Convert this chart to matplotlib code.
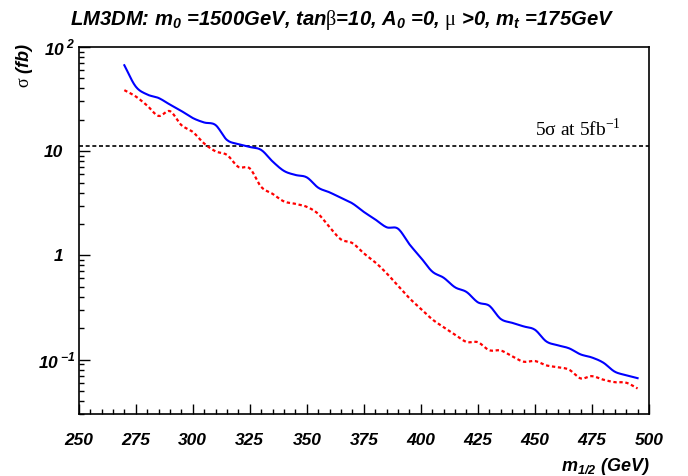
import numpy as np
import matplotlib
matplotlib.use("Agg")
import matplotlib.pyplot as plt
import matplotlib.transforms as mtransforms
from matplotlib.ticker import MultipleLocator, LogLocator, NullFormatter

plt.rcParams["font.family"] = "Liberation Sans"
plt.rcParams["mathtext.fontset"] = "custom"
plt.rcParams["mathtext.rm"] = "Liberation Serif"

# cross section vs m_1/2, sampled every 5 GeV
m_half = [270, 275, 280, 285, 290, 295, 300, 305, 310, 315,
          320, 325, 330, 335, 340, 345, 350, 355, 360, 365,
          370, 375, 380, 385, 390, 395, 400, 405, 410, 415,
          420, 425, 430, 435, 440, 445, 450, 455, 460, 465,
          470, 475, 480, 485, 490, 495]

sigma_blue = [66.8, 41.7, 35.0, 32.4, 28.0, 24.3, 20.8, 18.85, 17.8, 12.8,
              11.7, 10.97, 10.27, 7.96, 6.46, 5.91, 5.60, 4.46, 4.02, 3.56,
              3.15, 2.61, 2.21, 1.86, 1.80, 1.275, 0.949, 0.698, 0.609, 0.493,
              0.445, 0.354, 0.328, 0.245, 0.225, 0.208, 0.193, 0.149, 0.137, 0.128,
              0.112, 0.1045, 0.0932, 0.0764, 0.0707, 0.0662]

sigma_red = [38.5, 33.5, 27.4, 21.8, 24.2, 17.8, 15.3, 11.85, 9.96, 9.2,
             7.06, 6.83, 4.54, 3.89, 3.29, 3.12, 2.92, 2.50, 1.86, 1.42,
             1.31, 1.045, 0.857, 0.672, 0.510, 0.387, 0.307, 0.243, 0.204, 0.173,
             0.1475, 0.1465, 0.1228, 0.122, 0.1075, 0.0953, 0.0967, 0.0878, 0.0844, 0.0798,
             0.0659, 0.0692, 0.064, 0.0606, 0.0599, 0.0527]

discovery_level = 11.3

x_ticks = [250, 275, 300, 325, 350, 375, 400, 425, 450, 475, 500]
y_ticks = [0.1, 1, 10, 100]
y_tick_labels = [r"10$\,^{\mathregular{-1}}$", "1", "10", r"10$\,^{\mathregular{2}}$"]


def smooth(x, y, n=12):
    # Catmull-Rom spline through the points, done in log10(y)
    p = np.column_stack([np.asarray(x, float), np.log10(y)])
    p = np.vstack([2 * p[0] - p[1], p, 2 * p[-1] - p[-2]])
    t = np.linspace(0, 1, n, endpoint=False)[:, None]
    segs = []
    for i in range(1, len(p) - 2):
        p0, p1, p2, p3 = p[i - 1], p[i], p[i + 1], p[i + 2]
        segs.append(0.5 * (2 * p1 + (p2 - p0) * t
                           + (2 * p0 - 5 * p1 + 4 * p2 - p3) * t ** 2
                           + (3 * p1 - p0 - 3 * p2 + p3) * t ** 3))
    segs.append(p[-2][None, :])
    out = np.vstack(segs)
    return out[:, 0], 10 ** out[:, 1]


fig = plt.figure(figsize=(6.88, 4.76), dpi=100)
ax = fig.add_axes([0.1144, 0.1303, 0.8289, 0.771])

ax.axhline(discovery_level, color="black", lw=1.2, dashes=(2.4, 1.6))

xb, yb = smooth(m_half, sigma_blue)
ax.plot(xb, yb, color="#0000ff", lw=1.5)
xr, yr = smooth(m_half, sigma_red)
ax.plot(xr, yr, color="#ff0000", lw=1.6, dashes=(1.5, 1.2))

ax.set_yscale("log")
ax.set_xlim(250, 500)
ax.set_ylim(0.03, 100)

ax.xaxis.set_major_locator(MultipleLocator(25))
ax.xaxis.set_minor_locator(MultipleLocator(5))
ax.set_xticks(x_ticks)
ax.set_xticklabels([str(v) for v in x_ticks])
ax.set_yticks(y_ticks)
ax.set_yticklabels(y_tick_labels)
ax.yaxis.set_minor_locator(LogLocator(base=10, subs=np.arange(2, 10)))
ax.yaxis.set_minor_formatter(NullFormatter())

for side in ax.spines.values():
    side.set_linewidth(1.2)

ax.tick_params(which="both", direction="in", top=False, right=False, width=1)
ax.tick_params(axis="x", which="major", length=7.2, pad=14)
ax.tick_params(axis="x", which="minor", length=3.6)
ax.tick_params(axis="y", which="major", length=8, pad=11)
ax.tick_params(axis="y", which="minor", length=3.4)

for lab in ax.get_xticklabels() + ax.get_yticklabels():
    lab.set_fontsize(12.5)
    lab.set_fontweight("bold")
    lab.set_fontstyle("italic")

# power labels: keep the "10" in line with the plain ones
for lab in ax.get_yticklabels():
    if "^" in lab.get_text():
        lab.set_transform(lab.get_transform()
                          + mtransforms.ScaledTranslation(0.12, 0, fig.dpi_scale_trans))

ax.set_xlabel(r"m$_{\mathregular{1/2}}$ (GeV)", loc="right",
              fontsize=13, fontweight="bold", fontstyle="italic")
ax.xaxis.set_label_coords(1.002, -0.114)
ax.set_ylabel(r"$\mathrm{\sigma}$ (fb)", loc="top",
              fontsize=13, fontweight="bold", fontstyle="italic")
ax.yaxis.set_label_coords(-0.077, 1.011)

ax.text(0.800, 0.757, r"5σ at 5fb$^{\mathregular{-1}}$", transform=ax.transAxes,
        family="Liberation Serif", fontsize=14, va="baseline")

fig.text(0.497, 1 - 25 / 476,
         r"LM3DM: m$_\mathregular{0}$ =1500GeV, tan$\mathrm{\beta}$=10, "
         r"A$_\mathregular{0}$ =0, $\mathrm{\mu}$ >0, m$_\mathregular{t}$ =175GeV",
         ha="center", va="baseline", fontsize=14.6, fontweight="bold", fontstyle="italic")

fig.savefig("out.png", dpi=100)
